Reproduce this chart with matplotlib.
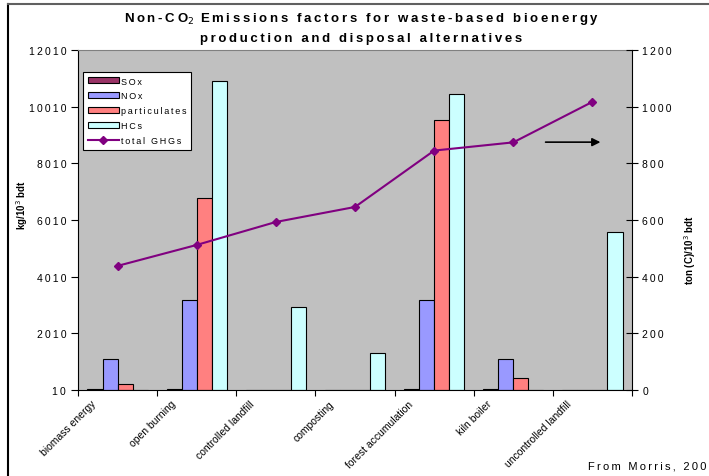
import numpy as np
import matplotlib.pyplot as plt
from matplotlib.lines import Line2D
from matplotlib.transforms import ScaledTranslation

plt.rcParams['font.family'] = ['Liberation Sans', 'DejaVu Sans']

categories = ['biomass energy', 'open burning', 'controlled landfill', 'composting',
              'forest accumulation', 'kiln boiler', 'uncontrolled landfill']
sox = [50, 50, 0, 0, 50, 50, 0]
nox = [1120, 3180, 0, 0, 3180, 1120, 0]
particulates = [210, 6790, 0, 0, 9540, 420, 0]
hcs = [0, 10910, 2940, 1300, 10450, 0, 5580]
total_ghgs = [438, 512, 593, 646, 845, 874, 1017]

series = [('SOx', sox, '#993366'), ('NOx', nox, '#9999FF'),
          ('particulates', particulates, '#FF8080'), ('HCs', hcs, '#CCFFFF')]


def spaced(s):
    # wide letter tracking
    return '\u2009'.join(s)


fig = plt.figure(figsize=(7.09, 4.77), dpi=100)
ax = fig.add_axes([78 / 709, 86 / 477, 554 / 709, 340 / 477])
ax.set_facecolor('#C0C0C0')

x = np.arange(len(categories))
w = 0.19
handles = []
for k, (name, vals, col) in enumerate(series):
    b = ax.bar(x + (k - 1.5) * w, vals, w, color=col, edgecolor='black', linewidth=0.8,
               label=spaced(name))
    handles.append(b)

ax.set_xlim(-0.5, len(categories) - 0.5)
ax.set_ylim(10, 12010)
ax.set_yticks(np.arange(10, 12011, 2000))
ax.set_yticklabels([spaced(str(v)) for v in range(10, 12011, 2000)], fontsize=7.5)
ax.set_xticks(np.arange(-0.5, len(categories), 1.0))
ax.set_xticklabels([])
ax.tick_params(axis='y', direction='out', length=5, width=0.8)
ax.tick_params(axis='x', direction='out', length=4, width=0.8)
for s in ['left', 'bottom']:
    ax.spines[s].set_color('black')
ax.spines['top'].set_color('#808080')
ax.spines['right'].set_visible(False)

# rotated category labels
off = ScaledTranslation(-19 / 72, -6 / 72, fig.dpi_scale_trans)
for xi, name in zip(x, categories):
    ax.text(xi, 10, name, rotation=45, rotation_mode='anchor', ha='right', va='top',
            fontsize=7.5, transform=ax.transData + off)

ax2 = ax.twinx()
ax2.set_ylim(0, 1200)
ax2.set_yticks(np.arange(0, 1201, 200))
ax2.set_yticklabels([spaced(str(v)) for v in range(0, 1201, 200)], fontsize=7.5)
ax2.tick_params(axis='y', direction='inout', length=8, width=0.8)
ax2.spines['right'].set_color('black')
ax2.spines['top'].set_visible(False)
ax2.spines['left'].set_visible(False)
ax2.spines['bottom'].set_visible(False)
line, = ax2.plot(x, total_ghgs, color='#800080', linewidth=1.5, marker='D', markersize=4.5,
                 label=spaced('total GHGs'))
handles.append(line)

ax2.annotate('', xy=(0.948, 0.729), xytext=(0.839, 0.729), xycoords='axes fraction',
             arrowprops=dict(arrowstyle='-|>', color='black', lw=1.2, mutation_scale=12))

leg = ax2.legend(handles=handles, loc='upper left', bbox_to_anchor=(5 / 554, 318 / 340),
                 fontsize=6.5, frameon=True, fancybox=False, edgecolor='black',
                 framealpha=1, handlelength=3.5, handleheight=0.6, labelspacing=0.65,
                 borderpad=0.5, handletextpad=0.2, borderaxespad=0)
leg.get_frame().set_linewidth(0.8)

fig.text(361 / 709, 1 - 19 / 477,
         spaced('Non-CO') + '$_2$' + spaced(' Emissions factors for waste-based bioenergy'),
         ha='center', va='center', fontsize=9.5, fontweight='bold')
fig.text(361 / 709, 1 - 39 / 477, spaced('production and disposal alternatives'),
         ha='center', va='center', fontsize=9.5, fontweight='bold')
fig.text(22 / 709, 1 - 205 / 477, 'kg/10$^3$ bdt', rotation=90, ha='center', va='center',
         fontsize=7, fontweight='bold')
fig.text(690 / 709, 1 - 250 / 477, 'ton (C)/10$^3$ bdt', rotation=90, ha='center', va='center',
         fontsize=7, fontweight='bold')
fig.text(588 / 709, 1 - 467 / 477, spaced('From Morris, 200'), ha='left', va='center', fontsize=8)

# outer chart border (left and top edges)
fig.add_artist(Line2D([8 / 709, 8 / 709], [0, 1 - 5 / 477], color='black', lw=1.5,
                      transform=fig.transFigure))
fig.add_artist(Line2D([8 / 709, 1], [1 - 5 / 477, 1 - 5 / 477], color='#606060', lw=1.5,
                      transform=fig.transFigure))

fig.savefig('out.png', dpi=100)
